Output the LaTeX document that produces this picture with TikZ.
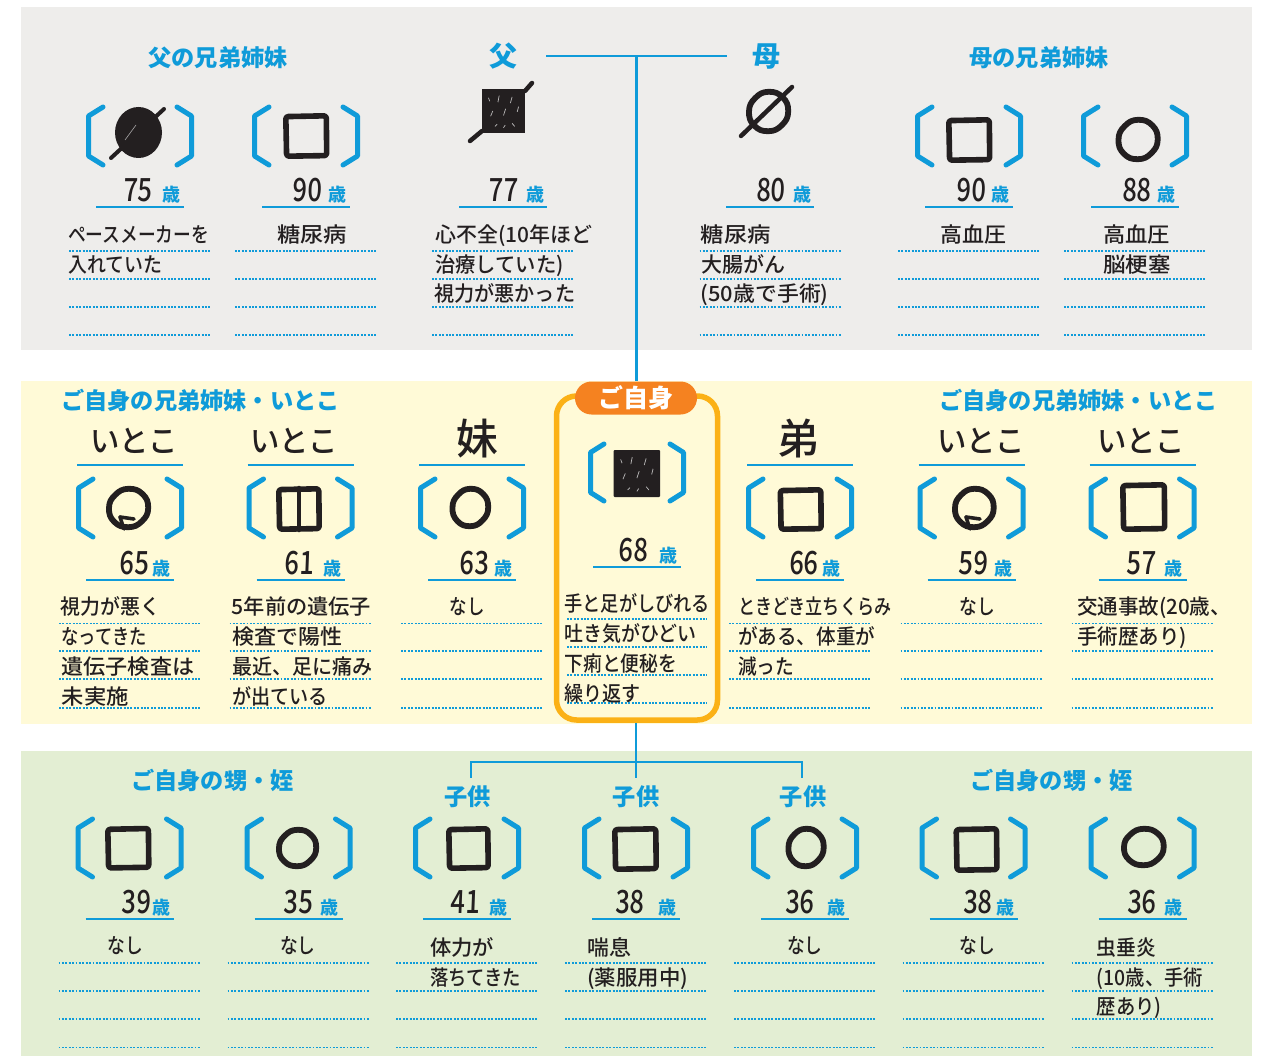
\documentclass[tikz,border=0pt]{standalone}
\usepackage{fontspec}
\setmainfont{Noto Sans CJK JP}
\newfontfamily\handf{Noto Sans CJK JP Medium}
\newfontfamily\handd[FakeSlant=0.05]{Noto Sans CJK JP Medium}
\definecolor{bl}{HTML}{0F9BD9}
\definecolor{ink}{HTML}{231F20}
\definecolor{bggray}{HTML}{EEEDEB}
\definecolor{bgyel}{HTML}{FFFAD7}
\definecolor{bggrn}{HTML}{E3EED3}
\definecolor{pillc}{HTML}{F58220}
\definecolor{boxc}{HTML}{FBB116}
\newcounter{tn}
\tikzset{
  x=1pt,y=-1pt,
  brk/.style={draw=bl,line width=5pt,line cap=round,line join=round},
  sym/.style={draw=ink,line width=5.6pt,line join=round,line cap=round},
  ageline/.style={draw=bl,line width=1.7pt},
  dotline/.style={draw=bl,line width=1.2pt,dash pattern=on 1.9pt off 1.5pt},
  conn/.style={draw=bl,line width=2.4pt},
  tline/.style={inner sep=0pt,anchor=west,text=ink,text height=18.5pt,text depth=2.5pt,font=\handf\fontsize{21}{24}\selectfont},
  head/.style={inner sep=0pt,text=bl,font=\bfseries\fontsize{23.2}{26}\selectfont},
  rel/.style={inner sep=0pt,text=ink,font=\handf\fontsize{31}{34}\selectfont},
  digits/.style={inner sep=0pt,anchor=base,text=ink,font=\handd\fontsize{32}{34}\selectfont},
  sai/.style={inner sep=0pt,text=bl,text height=16pt,text depth=2pt,font=\bfseries\fontsize{18}{20}\selectfont},
}
% text line fitted to a measured width
\newcommand\tl[4]{\stepcounter{tn}\node[tline] (t\arabic{tn}) at (#1,#2) {\resizebox{#3pt}{\height}{#4}};}
% brackets
\newcommand\bk[2]{%
  \draw[brk] (#1-37,#2-29)--(#1-51.5,#2-20)--(#1-51.5,#2+20)--(#1-37,#2+29);
  \draw[brk] (#1+37,#2-29)--(#1+51.5,#2-20)--(#1+51.5,#2+20)--(#1+37,#2+29);}
% narrower brackets of the self frame
\newcommand\bks[2]{%
  \draw[brk] (#1-33,#2-28.5)--(#1-46.5,#2-20)--(#1-46.5,#2+20)--(#1-33,#2+28.5);
  \draw[brk] (#1+33,#2-28.5)--(#1+46.5,#2-20)--(#1+46.5,#2+20)--(#1+33,#2+28.5);}
% age: line centre, line y, digits centre, digits, sai centre
\newcommand\age[5]{\stepcounter{tn}%
  \draw[ageline] (#1-44,#2)--(#1+44,#2);
  \node[digits] (t\arabic{tn}) at (#3,#2-5.5) {\resizebox{29pt}{\height}{#4}};
  \stepcounter{tn}\node[sai] (t\arabic{tn}) at (#5,#2-12) {歳};}
\newcommand\dotrows[5]{%
  \foreach \yy in {#2,#3,#4,#5}{\draw[dotline] (#1-71,\yy)--(#1+71,\yy);}}
% hand-drawn symbols from their outer box
\newcommand\hs[4]{\draw[sym,rounded corners=2.5pt] (#1+2.8,#2+3.6)--(#3-3.2,#2+2.8)--(#3-2.8,#4-3.4)--(#1+3.6,#4-2.8)--cycle;}
\newcommand\rp[2]{({\cxx+\rxx*cos(#1)*#2},{\cyy+\ryy*sin(#1)*#2})}
\newcommand\hc[4]{%
  \pgfmathsetmacro\cxx{(#1+#3)/2}\pgfmathsetmacro\cyy{(#2+#4)/2}%
  \pgfmathsetmacro\rxx{(#3-#1)/2-2.8}\pgfmathsetmacro\ryy{(#4-#2)/2-2.8}%
  \draw[sym,line width=5.8pt] plot [smooth cycle,tension=.8] coordinates {\rp{0}{1} \rp{45}{.97} \rp{90}{1} \rp{135}{1.02} \rp{180}{.99} \rp{225}{.96} \rp{270}{1} \rp{315}{1.02}};}
\newcommand\tick[4]{\draw[sym,line width=3.6pt] (#1+14,#4-13)--(#1+18,#4-1);\draw[sym,line width=3.6pt] (#1+14,#4-13)--(#1+28,#4-11);}
\newcommand\flecks[4]{%
  \foreach \fa/\fb/\fc/\fd in {.15/.2/.18/.28,.4/.15/.37/.3,.7/.18/.66/.32,.25/.5/.2/.62,.55/.45/.5/.6,.85/.4/.82/.52,.3/.85/.35/.8,.7/.78/.76/.85,.5/.88/.54/.82}{%
    \draw[line width=.7pt,draw=white!70!ink] ({#1+(#3-#1)*\fa},{#2+(#4-#2)*\fb})--({#1+(#3-#1)*\fc},{#2+(#4-#2)*\fd});}}
\begin{document}
\begin{tikzpicture}
\useasboundingbox (0,0) rectangle (1268,1056);
\fill[white] (0,0) rectangle (1268,1056);
\fill[bggray] (21,7) rectangle (1252,350);
\fill[bgyel] (21,381) rectangle (1252,724);
\fill[bggrn] (21,751) rectangle (1252,1056);

% ---------- headings
\node[head] (hFs) at (218,57.5) {父の兄弟姉妹};
\node[head] (hMs) at (1039,57.5) {母の兄弟姉妹};
\node[head,font=\bfseries\fontsize{28}{30}\selectfont] (fa) at (503,56) {父};
\node[head,font=\bfseries\fontsize{28}{30}\selectfont] (mo) at (766,57) {母};
\node[head] (hCl) at (200.5,400.5) {ご自身の兄弟姉妹・いとこ};
\node[head] (hCr) at (1078.5,400.5) {ご自身の兄弟姉妹・いとこ};
\node[head] (hNl) at (212.5,780.5) {ご自身の甥・姪};
\node[head] (hNr) at (1051.5,780.5) {ご自身の甥・姪};
\node[head] (ch1) at (467.5,797) {子供};
\node[head] (ch2) at (636,797) {子供};
\node[head] (ch3) at (803,797) {子供};

% ---------- self frame
\node[draw=boxc,line width=5.5pt,rounded corners=20pt,minimum width=161pt,minimum height=324pt,inner sep=0pt] (self) at (637,558) {};
\node[fill=pillc,text=white,rounded corners=16.5pt,minimum width=122pt,minimum height=33pt,inner sep=0pt,font=\bfseries\fontsize{25}{27}\selectfont] (pill) at (636,398) {ご自身};

% ---------- connectors
\coordinate (jTop) at (636.5,56);
\coordinate (jBus) at (636,762);
\draw[conn] ([xshift=29pt]fa.east) -- ([xshift=-25pt]mo.west |- fa.east);
\draw[conn] (jTop) -- (pill.north -| jTop);
\draw[conn] (self.south -| jBus) -- (jBus);
\draw[conn] ([xshift=3.5pt,yshift=8pt]ch1.north) |- (jBus);
\draw[conn] ([xshift=-1pt,yshift=8pt]ch3.north) |- (jBus);
\draw[conn] ([yshift=8pt]ch2.north) -- (jBus);

% ---------- top row
\bk{140}{136}
\fill[ink] (138.5,132.5) ellipse [x radius=23.5pt,y radius=25.5pt];
\draw[sym,line width=4pt] (111,158)--(164,109);
\draw[line width=.6pt,draw=white!60!ink] (125,140)--(136,125);
\bk{306}{136}
\hs{283}{113}{329.5}{159}
\fill[ink] (482,89) rectangle (525,133);
\flecks{482}{89}{525}{133}
\draw[sym,line width=4.5pt] (470,141)--(482,131);
\draw[sym,line width=4.5pt] (525,91)--(532,83);
\hc{746}{89}{791}{134}
\draw[sym,line width=4.5pt] (741,136)--(792,87);
\bk{969}{136}
\hs{946}{117}{992.5}{163}
\bk{1135}{136}
\hc{1115.5}{117}{1160.5}{162}
\draw[sym,line width=4pt] (1128,158)--(1137,160);

\age{140}{207}{137.5}{75}{171}
\age{306}{207}{307}{90}{337}
\age{503}{207}{503}{77}{535}
\age{770}{207}{770.5}{80}{802}
\age{969}{207}{971}{90}{1000}
\age{1135}{207}{1136.5}{88}{1166.5}

\dotrows{140}{251}{279}{307}{335}
\dotrows{306}{251}{279}{307}{335}
\dotrows{503}{251}{279}{307}{335}
\dotrows{770.5}{251}{279}{307}{335}
\dotrows{969}{251}{279}{307}{335}
\dotrows{1135}{251}{279}{307}{335}

\tl{68}{235}{141}{ペースメーカーを}
\tl{68}{265}{94}{入れていた}
\tl{277}{234.5}{70}{糖尿病}
\tl{435}{234.5}{157}{心不全(10年ほど}
\tl{435}{264.5}{128.5}{治療していた)}
\tl{434}{294}{141}{視力が悪かった}
\tl{700.5}{234.5}{70}{糖尿病}
\tl{701}{264.5}{84}{大腸がん}
\tl{700.5}{294}{128}{(50歳で手術)}
\tl{940.4}{234.5}{66}{高血圧}
\tl{1103}{234.5}{67}{高血圧}
\tl{1103}{264.5}{67.5}{脳梗塞}

% ---------- middle row
\node[rel] (r1) at (134,441) {\resizebox{88pt}{\height}{いとこ}};
\node[rel] (r2) at (294,441) {\resizebox{88pt}{\height}{いとこ}};
\node[rel,font=\handf\fontsize{42}{44}\selectfont] (r3) at (477,439) {妹};
\node[rel,font=\handf\fontsize{42}{44}\selectfont] (r4) at (798,438) {弟};
\node[rel] (r5) at (981,441) {\resizebox{88pt}{\height}{いとこ}};
\node[rel] (r6) at (1141,441) {\resizebox{88pt}{\height}{いとこ}};
\foreach \cc in {130,300.5,472,800,971.5,1142.5}{\draw[ageline,line width=1.5pt] (\cc-53,465)--(\cc+53,465);}

\bk{130}{508}
\hc{106}{486}{151}{530}
\tick{106}{486}{151}{530}
\bk{300.5}{508}
\hs{276}{486}{322}{532}
\draw[sym,line width=4.5pt] (299,488)--(299,530);
\bk{472}{508}
\hc{449.5}{486}{491}{529}
\bks{637}{472.5}
\fill[ink,rounded corners=1pt] (613.7,450) rectangle (660,497);
\flecks{613.7}{450}{660}{497}
\bk{800}{508}
\hs{777.5}{487}{824}{532}
\bk{971.5}{508}
\hc{952}{486}{996.5}{530}
\tick{952}{486}{996.5}{530}
\bk{1142.5}{508}
\hs{1120}{482}{1167.5}{532}

\age{130}{580}{134}{65}{161}
\age{300.5}{580}{299}{61}{332}
\age{472}{580}{474}{63}{503}
\age{637}{567}{633}{68}{668.5}
\age{800}{580}{803.5}{66}{831}
\age{971.5}{580}{973}{59}{1003}
\age{1142.5}{580}{1141}{57}{1173.5}

\dotrows{130}{623.3}{651}{679}{708}
\dotrows{300.5}{623.3}{651}{679}{708}
\dotrows{472}{623.3}{651}{679}{708}
\foreach \yy in {619,647,675,703}{\draw[dotline] (567,\yy)--(707,\yy);}
\dotrows{800}{623.3}{651}{679}{708}
\dotrows{971.5}{623.3}{651}{679}{708}
\dotrows{1142.5}{623.3}{651}{679}{708}

\tl{60.7}{606}{99.5}{視力が悪く}
\tl{61.5}{636}{85}{なってきた}
\tl{61.5}{666}{132.5}{遺伝子検査は}
\tl{61.5}{696.5}{67}{未実施}
\tl{231.5}{606}{139.5}{5年前の遺伝子}
\tl{232}{636}{110}{検査で陽性}
\tl{232}{666}{140.5}{最近、足に痛み}
\tl{232}{696.5}{95.5}{が出ている}
\tl{449.6}{606}{35}{なし}
\tl{564.3}{603.5}{145.7}{手と足がしびれる}
\tl{564.3}{633.5}{132}{吐き気がひどい}
\tl{564.3}{663}{112.5}{下痢と便秘を}
\tl{564.3}{693}{76}{繰り返す}
\tl{738}{606}{153}{ときどき立ちくらみ}
\tl{738}{636}{137}{がある、体重が}
\tl{738}{666}{56}{減った}
\tl{959.4}{606}{35.5}{なし}
\tl{1076.8}{606}{154}{交通事故(20歳、}
\tl{1076.8}{636}{110}{手術歴あり)}

% ---------- bottom row
\bk{129.5}{848}
\hs{105}{825.7}{151.6}{870.7}
\bk{298.5}{848}
\hc{276}{827}{319}{869}
\bk{467}{848}
\hs{446}{826}{491}{871}
\bk{636}{848}
\hs{612}{826}{659}{872}
\bk{805}{848}
\hc{785.5}{826}{826.5}{869}
\bk{973.5}{848}
\hs{953.4}{826}{999.7}{873}
\bk{1142.5}{848}
\hc{1121}{826}{1166.5}{868}

\age{129.5}{919}{136}{39}{161}
\age{298.5}{919}{298}{35}{329.7}
\age{467}{919}{465}{41}{498}
\age{636}{919}{629.5}{38}{667.5}
\age{805}{919}{799.5}{36}{836}
\age{973.5}{919}{977.5}{38}{1005}
\age{1142.5}{919}{1141.5}{36}{1173.5}

\dotrows{129.5}{963}{991}{1019}{1047.5}
\dotrows{298.5}{963}{991}{1019}{1047.5}
\dotrows{467}{963}{991}{1019}{1047.5}
\dotrows{636}{963}{991}{1019}{1047.5}
\dotrows{805}{963}{991}{1019}{1047.5}
\dotrows{973.5}{963}{991}{1019}{1047.5}
\dotrows{1142.5}{963}{991}{1019}{1047.5}

\tl{107.7}{945}{35.5}{なし}
\tl{280}{945}{35.5}{なし}
\tl{430}{947}{64}{体力が}
\tl{430}{977}{91}{落ちてきた}
\tl{587}{947}{43.7}{喘息}
\tl{587}{977}{101}{(薬服用中)}
\tl{787}{945}{35.5}{なし}
\tl{959.4}{945}{35.5}{なし}
\tl{1096.5}{947}{59.3}{虫垂炎}
\tl{1096.5}{977}{106.5}{(10歳、手術}
\tl{1096.5}{1006.5}{65}{歴あり)}
\end{tikzpicture}
\end{document}
